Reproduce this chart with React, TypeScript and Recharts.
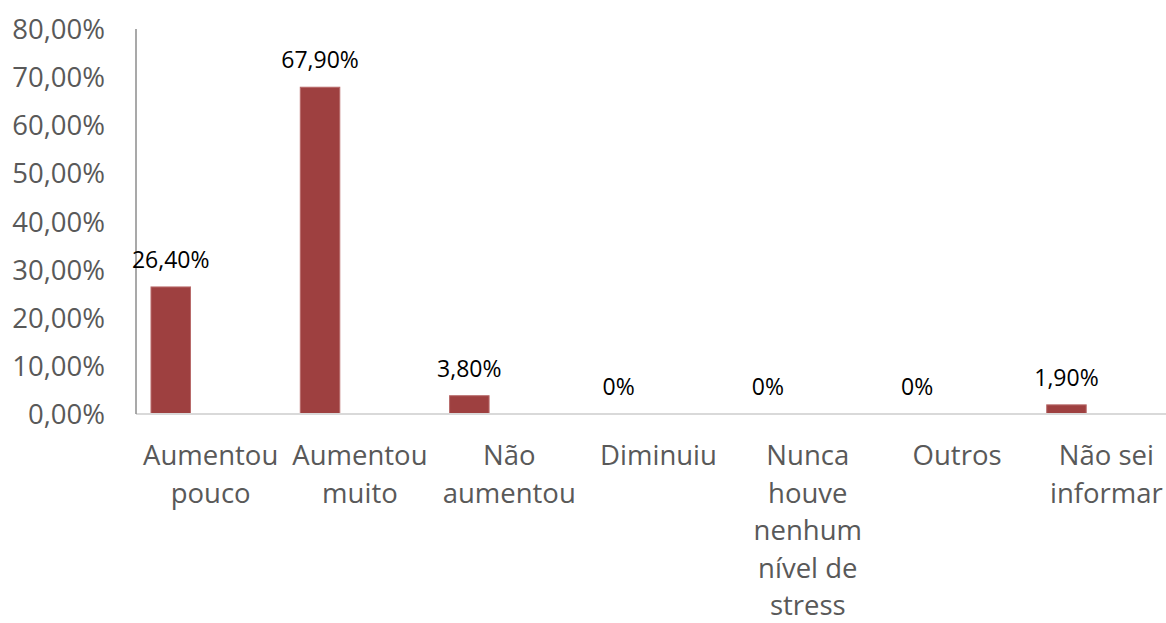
import { BarChart, Bar, XAxis, YAxis, LabelList, ReferenceLine } from 'recharts'

const categories = [
  'Aumentou pouco',
  'Aumentou muito',
  'Não aumentou',
  'Diminuiu',
  'Nunca houve nenhum nível de stress',
  'Outros',
  'Não sei informar',
]

// how each category label breaks into lines under the axis
const categoryLines = [
  ['Aumentou', 'pouco'],
  ['Aumentou', 'muito'],
  ['Não', 'aumentou'],
  ['Diminuiu'],
  ['Nunca', 'houve', 'nenhum', 'nível de', 'stress'],
  ['Outros'],
  ['Não sei', 'informar'],
]

const percentages = [26.4, 67.9, 3.8, 0, 0, 0, 1.9]

const yTicks = [0, 10, 20, 30, 40, 50, 60, 70, 80]

const FONT = '"Open Sans", sans-serif'
const GREY = '#595959'

const chartData = categories.map((name, i) => ({
  name,
  value: percentages[i],
  empty1: 0,
  empty2: 0,
}))

const fmtTick = (v: number) => v.toFixed(2).replace('.', ',') + '%'
const fmtLabel = (v: number) => (v === 0 ? '0%' : v.toFixed(2).replace('.', ',') + '%')

function XTick({ x, y, index }: any) {
  const lines = categoryLines[index] || []
  return (
    <text x={x} y={y} textAnchor="middle" fill={GREY} fontSize={27.5} fontFamily={FONT}>
      {lines.map((line, i) => (
        <tspan key={i} x={x} dy={i === 0 ? 51 : 37.5}>
          {line}
        </tspan>
      ))}
    </text>
  )
}

function YTick({ y, payload }: any) {
  return (
    <text x={105} y={y + 10} textAnchor="end" fill={GREY} fontSize={27.5} fontFamily={FONT}>
      {fmtTick(payload.value)}
    </text>
  )
}

// zero values get a hairline height so their label still shows; the rect itself is skipped
function BarShape({ x, y, width, height, value }: any) {
  const v = Array.isArray(value) ? value[1] : value
  if (!v) return <g />
  return <rect x={x} y={y} width={width} height={height} fill="#9e4040" stroke="#b86a6a" strokeWidth={1} />
}

function BarLabel({ x, y, width, value }: any) {
  return (
    <text
      x={x + width / 2}
      y={y - 19}
      textAnchor="middle"
      fill="#000"
      fontSize={23}
      fontFamily={FONT}
    >
      {fmtLabel(value)}
    </text>
  )
}

export default function App() {
  return (
    <div
      style={{
        position: 'absolute',
        left: 0,
        top: 0,
        width: 1166,
        height: 623,
        overflow: 'hidden',
        background: '#fff',
      }}
    >
      <BarChart
        width={1182}
        height={623}
        data={chartData}
        margin={{ top: 29, right: 1, bottom: 9, left: 8 }}
        barSize={39.5}
        barGap={0}
      >
        <XAxis
          dataKey="name"
          axisLine={false}
          tickLine={false}
          tickSize={0}
          tickMargin={0}
          interval={0}
          height={200}
          tick={<XTick />}
        />
        <YAxis
          domain={[0, 80]}
          ticks={yTicks}
          width={128}
          axisLine={{ stroke: '#8c8c8c', strokeWidth: 1.5 }}
          tickLine={false}
          tick={<YTick />}
        />
        <ReferenceLine y={0} stroke="#d9d9d9" strokeWidth={2} />
        <Bar
          dataKey="value"
          fill="#9e4040"
          minPointSize={0.01}
          shape={<BarShape />}
          isAnimationActive={false}
        >
          <LabelList dataKey="value" content={<BarLabel />} />
        </Bar>
        <Bar dataKey="empty1" fill="none" isAnimationActive={false} />
        <Bar dataKey="empty2" fill="none" isAnimationActive={false} />
      </BarChart>
    </div>
  )
}
